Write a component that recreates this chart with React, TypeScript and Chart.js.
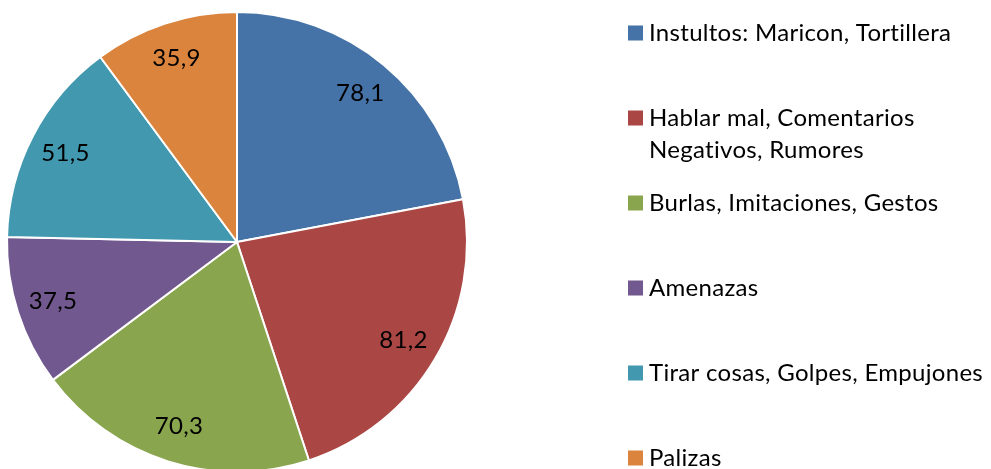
import React, { useEffect, useRef } from "react";
import { Chart, registerables } from "chart.js";

Chart.register(...registerables);

const categories: (string | string[])[] = [
  "Instultos: Maricon, Tortillera",
  ["Hablar mal, Comentarios", "Negativos, Rumores"],
  "Burlas, Imitaciones, Gestos",
  "Amenazas",
  "Tirar cosas, Golpes, Empujones",
  "Palizas",
];
const values: number[] = [78.1, 81.2, 70.3, 37.5, 51.5, 35.9];
const colors: string[] = ["#4572A7", "#AA4643", "#89A54E", "#71588F", "#4198AF", "#DB843D"];

const FONT = "Lato, 'Open Sans', sans-serif";

const labelsPlugin = {
  id: "sliceLabels",
  afterDatasetsDraw(chart: any) {
    const ctx = chart.ctx;
    const meta = chart.getDatasetMeta(0);
    ctx.save();
    ctx.font = `24px ${FONT}`;
    (ctx as any).letterSpacing = "0.3px";
    ctx.fillStyle = "#000";
    ctx.textAlign = "center";
    ctx.textBaseline = "middle";
    meta.data.forEach((arc: any, i: number) => {
      const { x, y, startAngle, endAngle, outerRadius } = arc.getProps(
        ["x", "y", "startAngle", "endAngle", "outerRadius"],
        true
      );
      const mid = (startAngle + endAngle) / 2;
      const r = outerRadius * 0.84;
      const text = values[i].toFixed(1).replace(".", ",");
      ctx.fillText(text, x + Math.cos(mid) * r, y + Math.sin(mid) * r);
    });
    ctx.restore();
  },
};

const legendPlugin = {
  id: "sideLegend",
  afterDraw(chart: any) {
    const ctx = chart.ctx;
    const left = 628;
    const top = 33;
    const step = 85;
    const box = 15;
    const lineH = 32;
    ctx.save();
    ctx.font = `24px ${FONT}`;
    (ctx as any).letterSpacing = "0.3px";
    ctx.textAlign = "left";
    ctx.textBaseline = "middle";
    categories.forEach((cat, i) => {
      const y = top + step * i;
      ctx.fillStyle = colors[i];
      ctx.fillRect(left, y - box / 2, box, box);
      ctx.fillStyle = "#000";
      const lines = Array.isArray(cat) ? cat : [cat];
      lines.forEach((ln, j) => {
        ctx.fillText(ln, left + box + 6, y + j * lineH);
      });
    });
    ctx.restore();
  },
};

export default function App() {
  const ref = useRef<HTMLCanvasElement>(null);
  useEffect(() => {
    document.body.style.margin = "0";
    const chart = new Chart(ref.current!, {
      type: "pie",
      data: {
        labels: categories.map((c) => (Array.isArray(c) ? c.join(" ") : c)),
        datasets: [
          {
            data: values,
            backgroundColor: colors,
            borderColor: "#ffffff",
            borderWidth: 2,
          },
        ],
      },
      options: {
        animation: false,
        responsive: false,
        radius: 230,
        layout: { padding: { left: 0, right: 517, top: 0, bottom: 0 } },
        plugins: {
          legend: { display: false },
          tooltip: { enabled: false },
        },
      } as any,
      plugins: [labelsPlugin, legendPlugin],
    });
    return () => chart.destroy();
  }, []);
  return (
    <div style={{ position: "fixed", left: 0, top: 0, width: 991, height: 484, background: "#fff" }}>
      <canvas ref={ref} width={991} height={484} style={{ width: 991, height: 484 }} />
    </div>
  );
}
